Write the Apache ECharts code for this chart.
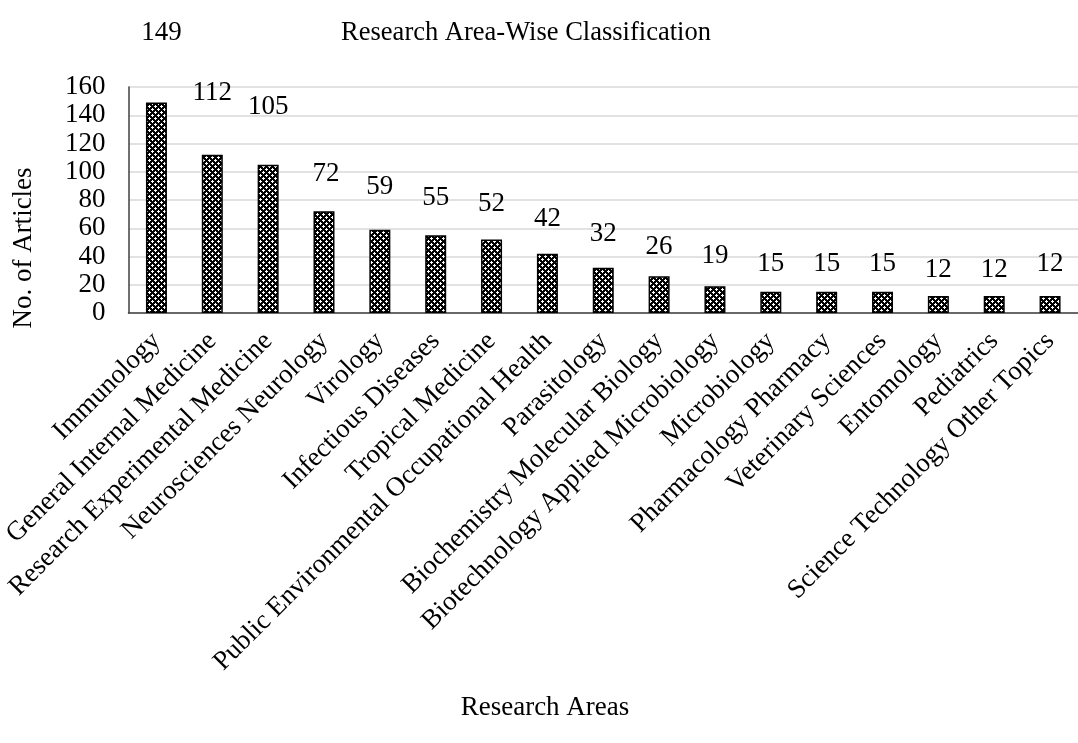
<!DOCTYPE html>
<html>
<head>
<meta charset="utf-8">
<script src="https://cdn.jsdelivr.net/npm/echarts@6/dist/echarts.min.js"></script>
<style>
  html, body { margin: 0; padding: 0; background: #ffffff; }
  #chart { width: 1078px; height: 743px; }
</style>
</head>
<body>
<div id="chart"></div>
<script>
// Research areas and article counts
const categories = [
  'Immunology',
  'General Internal Medicine',
  'Research Experimental Medicine',
  'Neurosciences Neurology',
  'Virology',
  'Infectious Diseases',
  'Tropical Medicine',
  'Public Environmental Occupational Health',
  'Parasitology',
  'Biochemistry Molecular Biology',
  'Biotechnology Applied Microbiology',
  'Microbiology',
  'Pharmacology Pharmacy',
  'Veterinary Sciences',
  'Entomology',
  'Pediatrics',
  'Science Technology Other Topics'
];
const articleCounts = [149, 112, 105, 72, 59, 55, 52, 42, 32, 26, 19, 15, 15, 15, 12, 12, 12];
const yTicks = [0, 20, 40, 60, 80, 100, 120, 140, 160];

const FONT = '"Liberation Serif", "Times New Roman", serif';

// Layout: how far (px) each value label's centre sits above its bar top
const labelLift = [70, 62, 58, 37, 43, 37, 36, 35, 34, 29, 30, 28, 28, 28, 26, 26, 32];
const labelShiftX = [5, 0, 0, 2, 0, 0, 0, 0, 0, 0, 0, 0, 0, 0, 0, 0, 0];

// Dotted fill used for the bars: white crosses on black
function makePattern() {
  const rows = [
    'bbwbbb',
    'bwwwbb',
    'bbwbbb',
    'bbbbbw',
    'wbbbww',
    'bbbbbw'
  ];
  const c = document.createElement('canvas');
  c.width = 6; c.height = 6;
  const ctx = c.getContext('2d');
  for (let y = 0; y < 6; y++) {
    for (let x = 0; x < 6; x++) {
      ctx.fillStyle = rows[y][x] === 'w' ? '#ffffff' : '#000000';
      ctx.fillRect(x, y, 1, 1);
    }
  }
  return c;
}

const chart = echarts.init(document.getElementById('chart'), null, { renderer: 'canvas' });
const pattern = { image: makePattern(), repeat: 'repeat' };

const LABEL_SIZE = 27;
const barData = articleCounts.map((v, i) => ({
  value: v,
  label: { offset: [labelShiftX[i], -(labelLift[i] - LABEL_SIZE / 2)] }
}));

chart.setOption({
  animation: false,
  backgroundColor: '#ffffff',
  title: [{
    text: 'Research Area-Wise Classification',
    left: 521,
    textAlign: 'center',
    top: 15,
    textStyle: { fontFamily: FONT, fontSize: 26.5, fontWeight: 'normal', color: '#000000' }
  }, {
    text: 'Research Areas',
    left: 540,
    textAlign: 'center',
    top: 689,
    textStyle: { fontFamily: FONT, fontSize: 27, fontWeight: 'normal', color: '#000000' }
  }],
  graphic: [{
    type: 'text',
    x: 24,
    y: 248,
    rotation: Math.PI / 2,
    style: {
      text: 'No. of Articles',
      font: '27px ' + FONT,
      fill: '#000000',
      align: 'center',
      verticalAlign: 'middle'
    }
  }],
  grid: { left: 125, top: 87, width: 961, height: 226, containLabel: false },
  xAxis: {
    type: 'category',
    data: categories,
    axisLine: { lineStyle: { color: '#404040', width: 1.5 } },
    axisTick: { show: false },
    axisLabel: {
      interval: 0,
      rotate: 45,
      margin: 24,
      fontFamily: FONT,
      fontSize: 27,
      color: '#000000'
    },
    splitLine: { show: false }
  },
  yAxis: {
    type: 'value',
    min: yTicks[0],
    max: yTicks[yTicks.length - 1],
    interval: yTicks[1] - yTicks[0],
    axisLine: { show: true, lineStyle: { color: '#404040', width: 1.5 } },
    axisTick: { show: false },
    axisLabel: { fontFamily: FONT, fontSize: 27, color: '#000000', margin: 23 },
    splitLine: { show: true, lineStyle: { color: '#d9d9d9', width: 1.5 } }
  },
  series: [{
    type: 'bar',
    data: barData,
    barWidth: 21,
    itemStyle: { color: pattern, borderColor: '#000000', borderWidth: 1.5 },
    label: {
      show: true,
      position: 'top',
      distance: 0,
      fontFamily: FONT,
      fontSize: LABEL_SIZE,
      color: '#000000'
    }
  }]
});
</script>
</body>
</html>
